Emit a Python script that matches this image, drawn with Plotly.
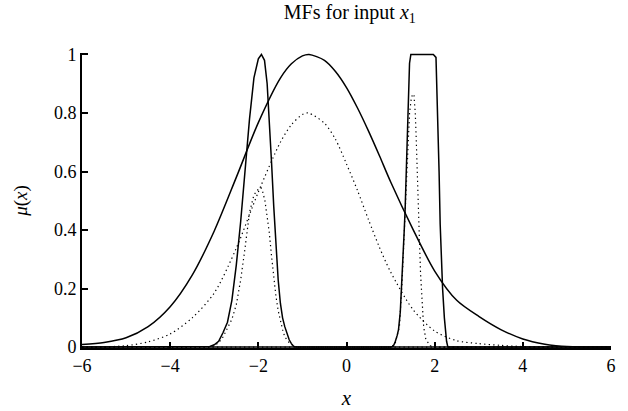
import plotly.graph_objects as go

# ---- data ----
# wide solid (tuned) MF
wide_solid_x = [-6, -5.5, -5.0, -4.5, -4.0, -3.5, -3.0, -2.5, -2.0, -1.5, -1.25, -1.0, -0.85,
                -0.5, -0.25, 0.0, 0.25, 0.5, 0.75, 1.0, 1.5, 2.0, 2.5, 3.0, 3.5, 4.0, 4.5, 4.75, 5.0, 6.0]
wide_solid_y = [0.009, 0.016, 0.032, 0.07, 0.138, 0.246, 0.397, 0.58, 0.767, 0.919, 0.968, 0.995, 1.0,
                0.98, 0.942, 0.887, 0.817, 0.738, 0.653, 0.565, 0.405, 0.26, 0.16, 0.105, 0.06, 0.028, 0.01, 0.005, 0.002, 0.0]

# narrow solid MF near -2
narrow_solid_x = [-6, -3.2, -3.1, -3.0, -2.9, -2.8, -2.7, -2.6, -2.5, -2.4, -2.3, -2.2, -2.1, -2.0, -1.93,
                  -1.86, -1.8, -1.75, -1.7, -1.65, -1.6, -1.55, -1.5, -1.45, -1.4, -1.35, -1.3, -1.25, -1.2, -1.15, 6]
narrow_solid_y = [0, 0, 0.002, 0.008, 0.02, 0.05, 0.085, 0.16, 0.28, 0.43, 0.6, 0.78, 0.92, 0.985, 1.0,
                  0.98, 0.9, 0.78, 0.63, 0.48, 0.34, 0.23, 0.15, 0.1, 0.07, 0.045, 0.025, 0.012, 0.003, 0.0, 0]

# flat-top solid MF near 1.7
flat_solid_x = [-6, 1.0, 1.06, 1.1, 1.15, 1.18, 1.22, 1.26, 1.29, 1.31, 1.33, 1.36, 1.38, 1.41, 1.43, 1.46,
                1.97, 2.03, 2.05, 2.08, 2.1, 2.125, 2.15, 2.18, 2.22, 2.24, 2.27, 2.3, 6]
flat_solid_y = [0, 0, 0.003, 0.016, 0.04, 0.06, 0.12, 0.23, 0.31, 0.4, 0.47, 0.6, 0.74, 0.88, 0.97, 1.0,
                1.0, 0.99, 0.9, 0.74, 0.6, 0.42, 0.3, 0.2, 0.1, 0.06, 0.02, 0.0, 0]

# wide dotted (initial) MF
wide_dot_x = [-6, -5.5, -5.0, -4.5, -4.0, -3.5, -3.0, -2.5, -2.0, -1.5, -1.25, -1.0, -0.87, -0.5,
              -0.25, 0.0, 0.25, 0.5, 0.75, 1.0, 1.5, 2.0, 2.5, 3.0, 3.5, 4.0, 4.5, 6.0]
wide_dot_y = [0.0, 0.001, 0.005, 0.018, 0.045, 0.1, 0.185, 0.338, 0.53, 0.7, 0.76, 0.795, 0.8, 0.765,
              0.71, 0.626, 0.535, 0.435, 0.34, 0.257, 0.13, 0.055, 0.022, 0.012, 0.006, 0.002, 0.0, 0.0]

# narrow dotted MF near -2
narrow_dot_x = [-6, -3.1, -3.0, -2.9, -2.8, -2.7, -2.6, -2.5, -2.4, -2.3, -2.2, -2.1, -2.0, -1.94, -1.9,
                -1.85, -1.8, -1.75, -1.7, -1.65, -1.6, -1.55, -1.5, -1.45, -1.4, -1.3, -1.2, -1.1, 6]
narrow_dot_y = [0, 0, 0.005, 0.015, 0.035, 0.065, 0.095, 0.145, 0.23, 0.34, 0.46, 0.52, 0.54, 0.545, 0.53,
                0.5, 0.45, 0.39, 0.31, 0.235, 0.173, 0.125, 0.088, 0.06, 0.035, 0.015, 0.004, 0.0, 0]

# narrow dotted MF near 1.6
peak_dot_x = [-6, 1.0, 1.1, 1.2, 1.26, 1.3, 1.33, 1.36, 1.4, 1.43, 1.47, 1.5, 1.53, 1.56, 1.58, 1.6,
              1.63, 1.65, 1.66, 1.68, 1.7, 1.72, 1.75, 1.8, 1.9, 2.0, 6]
peak_dot_y = [0, 0, 0.01, 0.07, 0.22, 0.36, 0.45, 0.56, 0.7, 0.8, 0.85, 0.865, 0.86, 0.8, 0.72, 0.64,
              0.51, 0.43, 0.34, 0.25, 0.19, 0.12, 0.07, 0.026, 0.005, 0.0, 0]

x_ticks = [-6, -4, -2, 0, 2, 4, 6]
y_ticks = [0, 0.2, 0.4, 0.6, 0.8, 1]
y_tick_text = ["0", "0.2", "0.4", "0.6", "0.8", "1"]

FONT = "Liberation Serif"
DOT = "1.3px,3.2px"

fig = go.Figure()

def add(xs, ys, dotted=False, shape="linear"):
    fig.add_trace(go.Scatter(
        x=xs, y=ys, mode="lines",
        line=dict(color="black", width=1.2 if dotted else 1.5,
                  dash=DOT if dotted else "solid", shape=shape,
                  smoothing=0.8 if shape == "spline" else None),
        showlegend=False, hoverinfo="skip"))

add(wide_dot_x, wide_dot_y, dotted=True, shape="spline")
add(narrow_dot_x, narrow_dot_y, dotted=True)
add(peak_dot_x, peak_dot_y, dotted=True)
add(wide_solid_x, wide_solid_y, shape="spline")
add(narrow_solid_x, narrow_solid_y)
add(flat_solid_x, flat_solid_y)

fig.update_layout(
    template="none",
    width=628, height=411,
    margin=dict(l=82, r=17, t=53, b=63, autoexpand=False),
    paper_bgcolor="white", plot_bgcolor="white",
    font=dict(family=FONT, color="black", size=18),
    title=dict(text="MFs for input <i>x</i><sub>1</sub>", x=0.557, xanchor="center",
               y=0.972, yanchor="middle", yref="container",
               font=dict(family=FONT, size=20, color="black")),
    xaxis=dict(range=[-6, 6], tickvals=x_ticks, ticks="inside", ticklen=6, tickwidth=1.5,
               tickcolor="black", showline=True, linecolor="black", linewidth=2,
               showgrid=False, zeroline=False, mirror=False,
               automargin=False,
               tickfont=dict(family=FONT, size=18, color="black"),
               title=dict(text="<i>x</i>", standoff=16,
                          font=dict(family=FONT, size=21, color="black"))),
    yaxis=dict(range=[-0.003, 1.005], tickvals=y_ticks, ticktext=y_tick_text,
               ticks="inside", ticklen=6, tickwidth=1.5,
               tickcolor="black", showline=True, linecolor="black", linewidth=2,
               showgrid=False, zeroline=False, mirror=False, automargin=False,
               tickfont=dict(family=FONT, size=18, color="black"),
               title=dict(text="<i>μ</i>(<i>x</i>)", standoff=21,
                          font=dict(family=FONT, size=19, color="black"))),
)

fig.write_html("out.html", config={"displayModeBar": False})
